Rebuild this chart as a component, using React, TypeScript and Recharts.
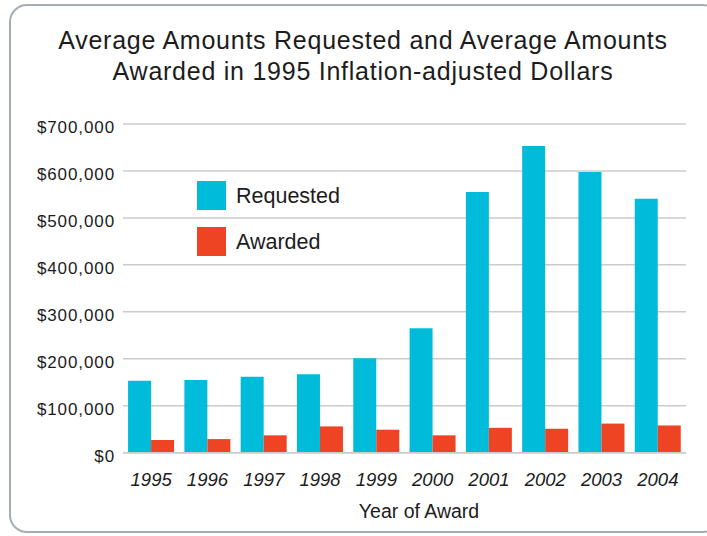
import React from "react";
import { BarChart, Bar, XAxis, YAxis, CartesianGrid } from "recharts";

// --- Data ---

const YEARS = ["1995", "1996", "1997", "1998", "1999", "2000", "2001", "2002", "2003", "2004"];
const REQUESTED = [153000, 155000, 162000, 167000, 201000, 265000, 555000, 653000, 598000, 541000];
const AWARDED = [27000, 29000, 37000, 56000, 49000, 37000, 53000, 51000, 62000, 58000];
const Y_TICKS = [0, 100000, 200000, 300000, 400000, 500000, 600000, 700000];

const TITLE_LINES = [
    "Average Amounts Requested and Average Amounts",
    "Awarded in 1995 Inflation-adjusted Dollars",
];
const X_LABEL = "Year of Award";

// --- Constants ---

const WIDTH = 707;
const HEIGHT = 536;
const FONT = "'Liberation Sans', Arial, Helvetica, sans-serif";
const TEXT_COLOR = "#1c1c1c";
const REQUESTED_COLOR = "#00BBD9";
const AWARDED_COLOR = "#EE4424";
const GRID_COLOR = "#cbcbcb";

const SERIES = [
    { key: "requested", name: "Requested", color: REQUESTED_COLOR },
    { key: "awarded", name: "Awarded", color: AWARDED_COLOR },
];

const data = YEARS.map((year, i) => ({
    year,
    requested: REQUESTED[i],
    awarded: AWARDED[i],
}));

const formatDollars = (v: number) => `$${v.toLocaleString("en-US")}`;

// --- Ticks ---

function YTick({ x, y, payload }: any)
{
    return (
        <text
            x={x}
            y={y + 8.8}
            textAnchor="end"
            fontFamily={FONT}
            fontSize={17}
            letterSpacing={0.9}
            fill={TEXT_COLOR}
        >
            {formatDollars(payload.value)}
        </text>
    );
}

function XTick({ x, y, payload }: any)
{
    return (
        <text
            x={x}
            y={y + 33.3}
            textAnchor="middle"
            fontFamily={FONT}
            fontSize={18.5}
            fontStyle="italic"
            fill={TEXT_COLOR}
        >
            {payload.value}
        </text>
    );
}

// --- Legend ---

function ChartLegend()
{
    return (
        <div style={{ position: "absolute", left: 197, top: 181, fontFamily: FONT }}>
            {SERIES.map((s, i) => (
                <div
                    key={s.key}
                    style={{
                        display: "flex",
                        alignItems: "center",
                        height: 29,
                        marginTop: i === 0 ? 0 : 17,
                    }}
                >
                    <span
                        style={{
                            display: "inline-block",
                            width: 29,
                            height: 29,
                            background: s.color,
                        }}
                    />
                    <span
                        style={{
                            marginLeft: 10,
                            fontSize: 21.5,
                            color: TEXT_COLOR,
                            position: "relative",
                            top: 1,
                        }}
                    >
                        {s.name}
                    </span>
                </div>
            ))}
        </div>
    );
}

// --- Component ---

export default function App()
{
    return (
        <div
            style={{
                position: "absolute",
                left: 0,
                top: 0,
                width: WIDTH,
                height: HEIGHT,
                overflow: "hidden",
                background: "#ffffff",
            }}
        >
            <div
                style={{
                    position: "absolute",
                    left: 9,
                    top: 4,
                    width: 712,
                    height: 529,
                    boxSizing: "border-box",
                    border: "2.5px solid #a4adb5",
                    borderRadius: 18,
                }}
            />
            <div
                style={{
                    position: "absolute",
                    left: 0,
                    top: 25.3,
                    width: 726,
                    textAlign: "center",
                    fontFamily: FONT,
                    fontSize: 25,
                    lineHeight: "30.7px",
                    letterSpacing: 0.75,
                    color: TEXT_COLOR,
                }}
            >
                {TITLE_LINES.map((line) => (
                    <div key={line}>{line}</div>
                ))}
            </div>
            <div
                style={{
                    position: "absolute",
                    left: 0,
                    top: 499,
                    width: 838,
                    textAlign: "center",
                    fontFamily: FONT,
                    fontSize: 19.5,
                    lineHeight: "24px",
                    color: TEXT_COLOR,
                }}
            >
                {X_LABEL}
            </div>
            <div style={{ position: "absolute", left: 0, top: 0 }}>
                <BarChart
                    width={WIDTH}
                    height={HEIGHT}
                    data={data}
                    margin={{ top: 124, right: 21, left: 0, bottom: 23.3 }}
                    barCategoryGap="9%"
                    barGap={0}
                >
                    <CartesianGrid
                        vertical={false}
                        stroke={GRID_COLOR}
                        strokeWidth={1.5}
                    />
                    <XAxis
                        dataKey="year"
                        height={60}
                        tickSize={0}
                        tickMargin={0}
                        tickLine={false}
                        axisLine={{ stroke: GRID_COLOR, strokeWidth: 1.5 }}
                        tick={<XTick />}
                        interval={0}
                    />
                    <YAxis
                        width={123}
                        domain={[0, 700000]}
                        ticks={Y_TICKS}
                        tickSize={0}
                        tickMargin={8}
                        tickLine={false}
                        axisLine={false}
                        tick={<YTick />}
                        interval={0}
                    />
                    {SERIES.map((s) => (
                        <Bar
                            key={s.key}
                            dataKey={s.key}
                            name={s.name}
                            fill={s.color}
                            isAnimationActive={false}
                        />
                    ))}
                </BarChart>
            </div>
            <ChartLegend />
        </div>
    );
}
